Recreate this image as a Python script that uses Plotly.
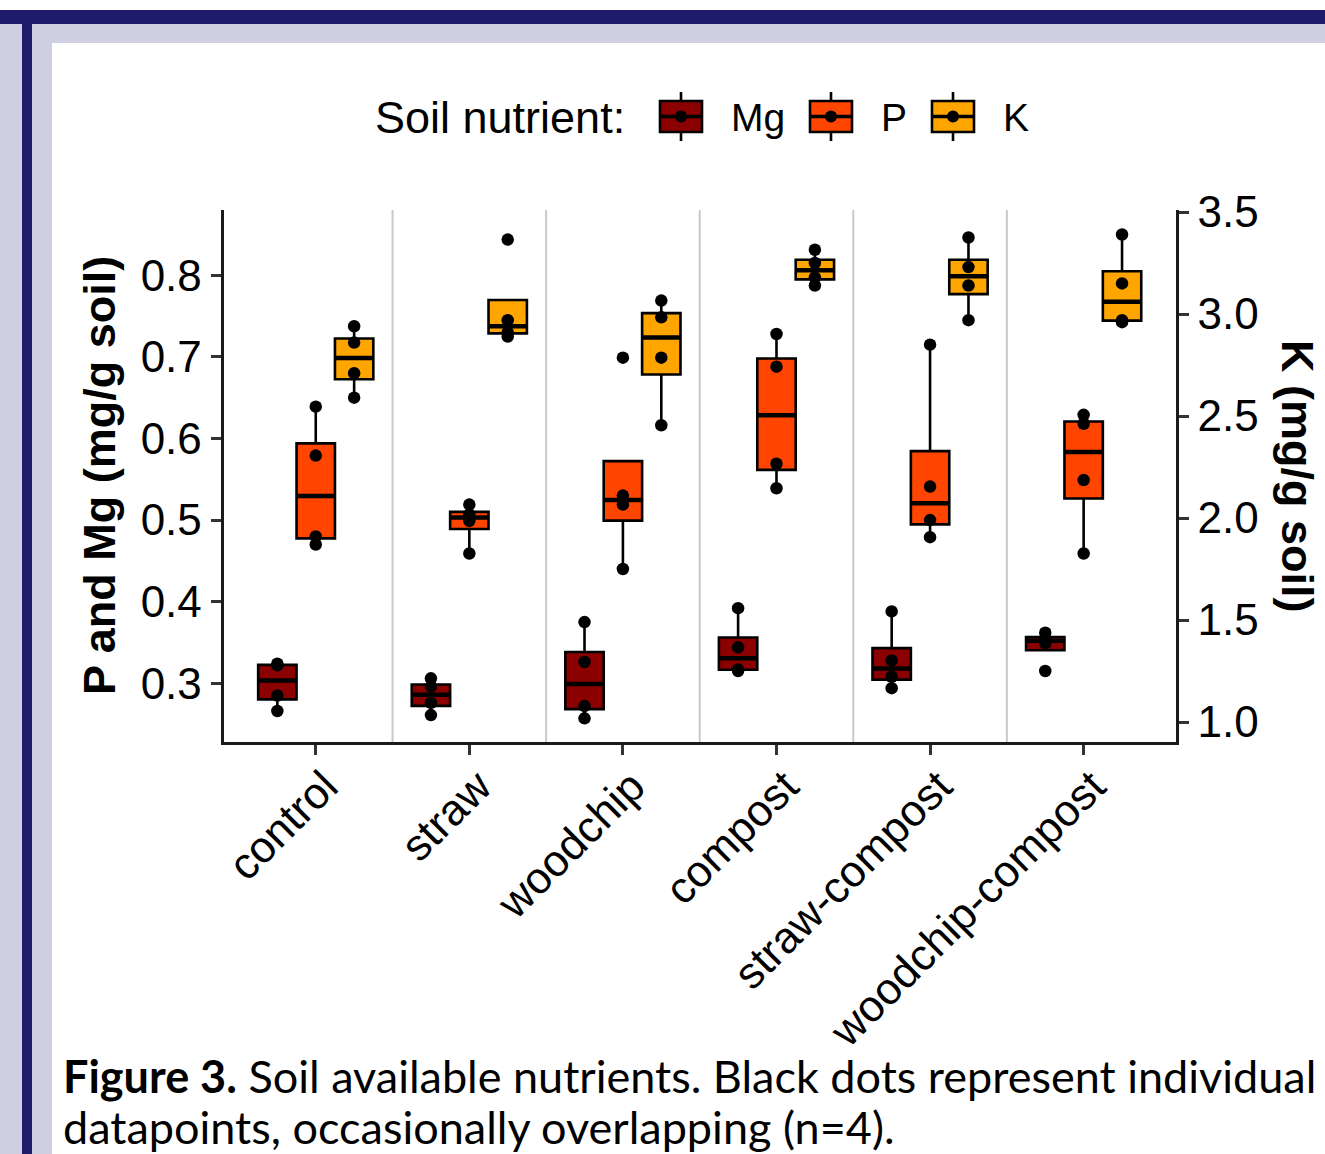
import numpy as np
import plotly.graph_objects as go

# ---------------- data ----------------
categories = ["control", "straw", "woodchip", "compost", "straw-compost", "woodchip-compost"]
nutrients = ["Mg", "P", "K"]

mg_values = [
    [0.266, 0.285, 0.322, 0.324],
    [0.261, 0.276, 0.296, 0.306],
    [0.257, 0.272, 0.326, 0.375],
    [0.315, 0.317, 0.344, 0.392],
    [0.294, 0.308, 0.328, 0.388],
    [0.315, 0.349, 0.355, 0.362],
]
p_values = [
    [0.470, 0.480, 0.579, 0.639],
    [0.459, 0.499, 0.507, 0.519],
    [0.440, 0.519, 0.530, 0.699],
    [0.539, 0.569, 0.688, 0.728],
    [0.479, 0.500, 0.541, 0.715],
    [0.459, 0.549, 0.618, 0.629],
]
k_values = [
    [2.59, 2.71, 2.86, 2.94],
    [2.89, 2.91, 2.97, 3.365],
    [2.455, 2.786, 2.984, 3.066],
    [3.14, 3.18, 3.25, 3.315],
    [2.97, 3.14, 3.23, 3.375],
    [2.96, 2.97, 3.15, 3.39],
]
left_ticks = [0.3, 0.4, 0.5, 0.6, 0.7, 0.8]
right_ticks = [1.0, 1.5, 2.0, 2.5, 3.0, 3.5]

colors = {"Mg": "#8B0000", "P": "#FF4500", "K": "#FFA500"}
series = {"Mg": (mg_values, "y"), "P": (p_values, "y"), "K": (k_values, "y2")}

W, H = 1325, 1154
FONT = "Liberation Sans, Arial, sans-serif"
CAP_FONT = "Lato, sans-serif"


def px(x):
    return x / W


def py(y):
    return 1 - y / H


def box_stats(groups):
    out = {"q1": [], "median": [], "q3": [], "lowerfence": [], "upperfence": []}
    for g in groups:
        a = np.asarray(g, dtype=float)
        q1, med, q3 = np.percentile(a, [25, 50, 75])
        iqr = q3 - q1
        out["q1"].append(q1)
        out["median"].append(med)
        out["q3"].append(q3)
        out["lowerfence"].append(a[a >= q1 - 1.5 * iqr].min())
        out["upperfence"].append(a[a <= q3 + 1.5 * iqr].max())
    return out


fig = go.Figure()
for name in nutrients:
    vals, axis = series[name]
    st = box_stats(vals)
    common = dict(name=name, yaxis=axis, offsetgroup=name, alignmentgroup="nutrients",
                  showlegend=False)
    # box body + whiskers
    fig.add_trace(go.Box(
        x=categories, q1=st["q1"], median=st["median"], q3=st["q3"],
        lowerfence=st["lowerfence"], upperfence=st["upperfence"],
        fillcolor=colors[name], line=dict(color="black", width=2.6),
        whiskerwidth=0, boxpoints=False, **common,
    ))
    # thicker median bar (zero-height box at the median)
    fig.add_trace(go.Box(
        x=categories, q1=st["median"], median=st["median"], q3=st["median"],
        lowerfence=st["median"], upperfence=st["median"],
        fillcolor="rgba(0,0,0,0)", line=dict(color="black", width=4.5),
        whiskerwidth=0, boxpoints=False, hoverinfo="skip", **common,
    ))
    # individual datapoints
    xs = [c for c, g in zip(categories, vals) for _ in g]
    ys = [v for g in vals for v in g]
    fig.add_trace(go.Box(
        x=xs, y=ys, boxpoints="all", jitter=0, pointpos=0,
        fillcolor="rgba(0,0,0,0)", line=dict(width=0, color="rgba(0,0,0,0)"),
        marker=dict(color="black", size=12.5), hoveron="points", **common,
    ))

x_dom = [px(223.6), px(1175.8)]
y_dom = [py(742), py(210)]
axis_common = dict(showline=True, linecolor="#1a1a1a", linewidth=3, ticks="outside",
                   ticklen=10, tickwidth=3, tickcolor="#333333", showgrid=False,
                   zeroline=False, automargin=False,
                   tickfont=dict(family=FONT, size=44, color="black"))

fig.update_layout(
    width=W, height=H, margin=dict(l=0, r=0, t=0, b=0, pad=0, autoexpand=False),
    paper_bgcolor="white", plot_bgcolor="white",
    boxmode="group", boxgap=0.25, boxgroupgap=0,
    showlegend=False,
    xaxis=dict(domain=x_dom, type="category", categoryorder="array", categoryarray=categories,
               range=[-0.6, len(categories) - 1 + 0.6], tickangle=-45, anchor="y",
               ticklabelstandoff=-12, ticklabelshift=9, **axis_common),
    yaxis=dict(domain=y_dom, range=[0.228, 0.88], tickvals=left_ticks,
               ticktext=[f"{v:.1f}" for v in left_ticks], anchor="x", **axis_common),
    yaxis2=dict(domain=y_dom, range=[0.902, 3.51], tickvals=right_ticks,
                ticktext=[f"{v:.1f}" for v in right_ticks], overlaying="y", side="right",
                anchor="x", **axis_common),
)

shapes = []
# page frame
lav, navy = "#cfcfe2", "#1e1b6c"
shapes.append(dict(type="rect", xref="paper", yref="paper", x0=0, x1=1, y0=py(43), y1=py(24),
                   fillcolor=lav, line_width=0, layer="below"))
shapes.append(dict(type="rect", xref="paper", yref="paper", x0=0, x1=px(52), y0=0, y1=py(24),
                   fillcolor=lav, line_width=0, layer="below"))
shapes.append(dict(type="rect", xref="paper", yref="paper", x0=0, x1=1, y0=py(24), y1=py(10),
                   fillcolor=navy, line_width=0, layer="below"))
shapes.append(dict(type="rect", xref="paper", yref="paper", x0=px(22), x1=px(32), y0=0, y1=py(24),
                   fillcolor=navy, line_width=0, layer="below"))
# vertical separators between categories
for i in range(len(categories) - 1):
    shapes.append(dict(type="line", xref="x", yref="paper", x0=i + 0.5, x1=i + 0.5,
                       y0=y_dom[0], y1=y_dom[1], line=dict(color="#c8c8c8", width=2), layer="below"))

annotations = []
# custom legend
annotations.append(dict(text="Soil nutrient:", x=px(373), y=py(117), xref="paper", yref="paper",
                        xanchor="left", yanchor="middle", showarrow=False,
                        font=dict(family=FONT, size=45, color="black")))
legend_icons = {"Mg": 660, "P": 810, "K": 932}
for name in nutrients:
    L = legend_icons[name]
    cx = L + 21
    shapes.append(dict(type="line", xref="paper", yref="paper", x0=px(cx), x1=px(cx),
                       y0=py(141), y1=py(92), line=dict(color="black", width=2.6)))
    shapes.append(dict(type="rect", xref="paper", yref="paper", x0=px(L), x1=px(L + 42),
                       y0=py(132), y1=py(101), fillcolor=colors[name],
                       line=dict(color="black", width=2.6)))
    shapes.append(dict(type="line", xref="paper", yref="paper", x0=px(L), x1=px(L + 42),
                       y0=py(116.5), y1=py(116.5), line=dict(color="black", width=3.5)))
    shapes.append(dict(type="circle", xref="paper", yref="paper", x0=px(cx - 6), x1=px(cx + 6),
                       y0=py(122.5), y1=py(110.5), fillcolor="black", line_width=0))
    annotations.append(dict(text=name, x=px(L + 69), y=py(117), xref="paper", yref="paper",
                            xanchor="left", yanchor="middle", showarrow=False,
                            font=dict(family=FONT, size=39, color="black")))

# axis titles
annotations.append(dict(text="<b>P and Mg (mg/g soil)</b>", x=px(99), y=py(476), xref="paper",
                        yref="paper", textangle=-90, showarrow=False, xanchor="center",
                        yanchor="middle", font=dict(family=FONT, size=45, color="black")))
annotations.append(dict(text="<b>K (mg/g soil)</b>", x=px(1298), y=py(476), xref="paper",
                        yref="paper", textangle=90, showarrow=False, xanchor="center",
                        yanchor="middle", font=dict(family=FONT, size=45, color="black")))
# caption (two lines)
annotations.append(dict(
    text="<b>Figure 3.</b> Soil available nutrients. Black dots represent individual",
    x=px(61), y=py(1076), xref="paper", yref="paper", xanchor="left", yanchor="middle",
    align="left", showarrow=False, font=dict(family=CAP_FONT, size=45, color="black")))
annotations.append(dict(
    text="datapoints, occasionally overlapping (n=4).",
    x=px(61), y=py(1127), xref="paper", yref="paper", xanchor="left", yanchor="middle",
    align="left", showarrow=False, font=dict(family=CAP_FONT, size=45, color="black")))

fig.update_layout(shapes=shapes, annotations=annotations)

fig.write_html("out.html", config={"displayModeBar": False},
               post_script="document.body.style.margin='0';document.body.style.overflow='hidden';")
